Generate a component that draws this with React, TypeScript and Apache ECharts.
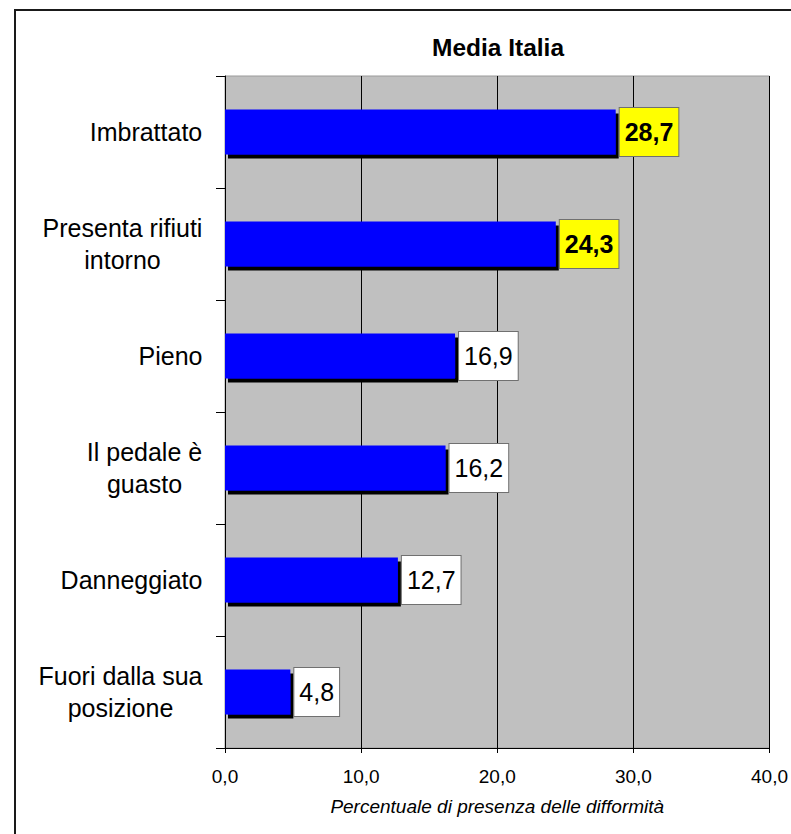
import React, { useEffect, useRef } from "react";
import * as echarts from "echarts";

// Share of bins showing each defect (national average)
const categories = [
  "Imbrattato",
  "Presenta rifiuti\nintorno",
  "Pieno",
  "Il pedale è\nguasto",
  "Danneggiato",
  "Fuori dalla sua\nposizione",
];
const values = [28.7, 24.3, 16.9, 16.2, 12.7, 4.8];
// Categories whose value label is emphasised
const highlighted = ["Imbrattato", "Presenta rifiuti\nintorno"];
const xTicks = [0, 10, 20, 30, 40];

const FONT = "'Liberation Sans', Arial, sans-serif";
const fmt = (v: number) => v.toFixed(1).replace(".", ",");

export default function App() {
  const ref = useRef<HTMLDivElement>(null);

  useEffect(() => {
    if (!ref.current) return;
    const chart = echarts.init(ref.current, undefined, { renderer: "svg" });

    // Multi-line category labels: lines centred within the block, block right-aligned
    const ctx = document.createElement("canvas").getContext("2d")!;
    ctx.font = `25px ${FONT}`;
    const rich: Record<string, any> = {};
    categories.forEach((c, i) => {
      const w = Math.max(...c.split("\n").map((l) => ctx.measureText(l).width));
      rich["w" + i] = {
        width: Math.ceil(w) + 1,
        align: "center",
        fontSize: 25,
        lineHeight: 32,
        fontFamily: FONT,
        color: "#000",
      };
    });

    const data = values.map((v, i) => {
      const hi = highlighted.includes(categories[i]);
      return {
        value: v,
        label: hi
          ? { backgroundColor: "#FFFF00", fontWeight: "bold" as const }
          : { backgroundColor: "#FFFFFF", fontWeight: "normal" as const },
      };
    });

    chart.setOption({
      animation: false,
      graphic: [
        {
          type: "rect",
          shape: { x: 15, y: 10, width: 800, height: 850 },
          style: { fill: "none", stroke: "#1a1a1a", lineWidth: 2 },
          silent: true,
        },
        {
          type: "text",
          x: 498,
          y: 47,
          style: {
            text: "Media Italia",
            fontSize: 24.5,
            fontWeight: "bold",
            fontFamily: FONT,
            fill: "#000",
            textAlign: "center",
            textVerticalAlign: "middle",
          },
        },
      ],
      grid: {
        left: 225,
        right: 20,
        top: 76,
        bottom: 86,
        show: true,
        backgroundColor: "#C0C0C0",
        borderColor: "#9a9a9a",
        borderWidth: 1,
      },
      xAxis: {
        type: "value",
        min: xTicks[0],
        max: xTicks[xTicks.length - 1],
        interval: xTicks[1] - xTicks[0],
        name: "Percentuale di presenza delle difformità",
        nameLocation: "middle",
        nameGap: 49,
        nameTextStyle: {
          fontSize: 19,
          fontStyle: "italic",
          fontFamily: FONT,
          color: "#000",
        },
        axisLine: { show: true, lineStyle: { color: "#000", width: 1 } },
        axisTick: { show: true, length: 5, lineStyle: { color: "#000" } },
        axisLabel: {
          formatter: (v: number) => fmt(v),
          fontSize: 19,
          fontFamily: FONT,
          color: "#000",
          margin: 19,
        },
        splitLine: { show: true, lineStyle: { color: "#000", width: 1 } },
      },
      yAxis: {
        type: "category",
        data: categories,
        inverse: true,
        axisLine: { show: true, lineStyle: { color: "#000", width: 1 } },
        axisTick: { show: true, length: 9, lineStyle: { color: "#000" } },
        axisLabel: {
          margin: 22,
          formatter: (v: string, i: number) =>
            v
              .split("\n")
              .map((l) => `{w${i}|${l}}`)
              .join("\n"),
          rich,
        },
      },
      series: [
        {
          type: "bar",
          data,
          barWidth: 45,
          itemStyle: {
            color: "#0000FF",
            shadowColor: "#000",
            shadowBlur: 0,
            shadowOffsetX: 3,
            shadowOffsetY: 4,
          },
          label: {
            show: true,
            position: "right",
            distance: 4,
            formatter: (p: any) => fmt(p.value),
            fontSize: 25,
            lineHeight: 28,
            fontFamily: FONT,
            color: "#000",
            borderColor: "#707070",
            borderWidth: 1,
            padding: [10, 5, 10, 5],
          },
        },
      ],
    });

    return () => chart.dispose();
  }, []);

  return (
    <div
      ref={ref}
      style={{ position: "absolute", left: 0, top: 0, width: 791, height: 834 }}
    />
  );
}
